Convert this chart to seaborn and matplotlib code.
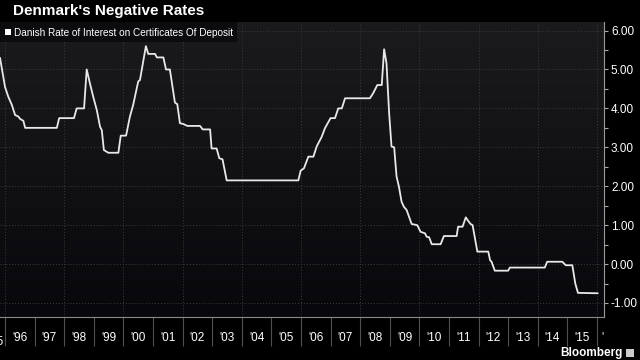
import numpy as np
import pandas as pd
import matplotlib
matplotlib.use("Agg")
import matplotlib.pyplot as plt
import seaborn as sns
from matplotlib.colors import LinearSegmentedColormap
from matplotlib.patches import Rectangle

title = "Denmark's Negative Rates"
series_name = "Danish Rate of Interest on Certificates Of Deposit"

years = [1995.83, 1996.00, 1996.11, 1996.23, 1996.34, 1996.45, 1996.51, 1996.62, 1996.68,
         1997.75, 1997.83, 1998.33, 1998.42, 1998.67, 1998.76, 1998.87, 1998.98, 1999.10,
         1999.21, 1999.27, 1999.34, 1999.49, 1999.83, 1999.91, 2000.09, 2000.22, 2000.33,
         2000.50, 2000.56, 2000.76, 2000.84, 2001.07, 2001.13, 2001.35, 2001.44, 2001.57,
         2001.74, 2001.82, 2001.91, 2002.02, 2002.16, 2002.59, 2002.68, 2002.93, 2002.98,
         2003.15, 2003.24, 2003.35, 2003.49, 2005.91, 2005.99, 2006.10, 2006.25, 2006.42,
         2006.53, 2006.70, 2006.81, 2007.00, 2007.15, 2007.26, 2007.38, 2007.49, 2008.33,
         2008.44, 2008.58, 2008.73, 2008.81, 2008.89, 2008.98, 2009.06, 2009.15, 2009.23,
         2009.31, 2009.40, 2009.48, 2009.57, 2009.74, 2009.93, 2010.04, 2010.19, 2010.25,
         2010.33, 2010.42, 2010.72, 2010.83, 2011.26, 2011.31, 2011.46, 2011.57, 2011.65,
         2011.73, 2011.80, 2011.96, 2012.33, 2012.39, 2012.44, 2012.55, 2013.00, 2013.06,
         2014.24, 2014.32, 2014.83, 2014.95, 2015.17, 2015.27, 2015.36, 2016.03]
rates = [5.30, 4.55, 4.30, 4.09, 3.83, 3.79, 3.73, 3.68, 3.50,
         3.50, 3.75, 3.75, 4.00, 4.00, 5.00, 4.64, 4.30, 3.96,
         3.53, 3.44, 2.93, 2.86, 2.86, 3.30, 3.30, 3.79, 4.09,
         4.69, 4.73, 5.60, 5.40, 5.40, 5.31, 5.31, 5.00, 5.00,
         4.15, 4.11, 3.62, 3.60, 3.55, 3.55, 3.46, 3.46, 2.97,
         2.97, 2.72, 2.69, 2.15, 2.15, 2.40, 2.46, 2.76, 2.76,
         3.02, 3.27, 3.49, 3.75, 3.75, 4.00, 4.00, 4.26, 4.26,
         4.39, 4.60, 4.60, 5.52, 5.16, 3.87, 3.02, 3.00, 2.25,
         1.99, 1.60, 1.47, 1.39, 1.03, 1.00, 0.83, 0.79, 0.70,
         0.69, 0.51, 0.51, 0.72, 0.72, 0.96, 0.96, 1.20, 1.11,
         1.03, 1.00, 0.32, 0.32, 0.10, 0.06, -0.17, -0.17, -0.09,
         -0.09, 0.06, 0.06, -0.03, -0.03, -0.50, -0.74, -0.75]

year_starts = list(range(1996, 2017))
year_labels = ["'96", "'97", "'98", "'99", "'00", "'01", "'02", "'03", "'04", "'05",
               "'06", "'07", "'08", "'09", "'10", "'11", "'12", "'13", "'14", "'15"]
y_ticks = [-1, 0, 1, 2, 3, 4, 5, 6]
y_labels = ["-1.00", "0.00", "1.00", "2.00", "3.00", "4.00", "5.00", "6.00"]

sns.set_theme(style="dark")
plt.rcParams['font.family'] = ['Liberation Sans', 'DejaVu Sans']

W, H = 640, 360
fig = plt.figure(figsize=(6.4, 3.6), dpi=100, facecolor='black')
ax = fig.add_axes([0, 1 - 317 / H, 604 / W, (317 - 22) / H])

xmin, xmax = 1995.83, 2016.24
ymin, ymax = -1.36, 6.22

bg = LinearSegmentedColormap.from_list('bg', ['#1b1b1d', '#08080c'])
ax.imshow(np.linspace(0, 1, 256).reshape(-1, 1), extent=[xmin, xmax, ymin, ymax],
          aspect='auto', cmap=bg, origin='upper', zorder=0)

for yv in y_ticks:
    ax.axhline(yv, ls=(0, (1, 2)), color='#3c3c3e', lw=0.7, zorder=1)
for xv in year_starts[::2]:
    ax.axvline(xv, ls=(0, (1, 2)), color='#3c3c3e', lw=0.7, zorder=1)

df = pd.DataFrame({'year': years, 'rate': rates})
sns.lineplot(data=df, x='year', y='rate', ax=ax, color='#e8e8e8', lw=1.3,
             sort=False, estimator=None, zorder=3)

ax.set_xlim(xmin, xmax)
ax.set_ylim(ymin, ymax)
ax.set_xlabel('')
ax.set_ylabel('')

for s in ['left', 'top']:
    ax.spines[s].set_visible(False)
ax.spines['right'].set_color('#9a9a9a')
ax.spines['right'].set_linewidth(0.8)
ax.spines['bottom'].set_color('#8a8a8a')
ax.spines['bottom'].set_linewidth(0.8)

ax.yaxis.tick_right()
ax.set_yticks(y_ticks)
ax.set_yticklabels(y_labels)
ax.set_yticks(np.arange(-1, 6.01, 0.5), minor=True)
ax.tick_params(axis='y', which='both', direction='out', length=3, width=0.8,
               color='#aaaaaa', labelcolor='white', labelsize=8.5, pad=2,
               left=False, right=True)

ax.set_xticks(year_starts)
ax.set_xticklabels([])
ax.set_xticks([y + 0.5 for y in year_starts[:-1]], minor=True)
ax.set_xticklabels(year_labels, minor=True)
ax.tick_params(axis='x', which='major', direction='out', length=21, width=0.8,
               color='#505050', bottom=True)
ax.tick_params(axis='x', which='minor', length=0, pad=11, labelcolor='white',
               labelsize=8.5, bottom=True)
ax.text(1996 - 9 / 29.6, -0.085, "'95", transform=ax.get_xaxis_transform(),
        ha='center', va='center', color='white', fontsize=8.5, clip_on=False)
fig.text(602 / W, 1 - 331 / H, "'", ha='center', va='top', color='white',
         fontsize=8.5)

# title
fig.text(13 / W, 1 - 11 / H, title, ha='left', va='center', color='white',
         fontsize=11, fontweight='bold')
# legend box
fig.patches.append(Rectangle((0, 1 - 42 / H), 237 / W, 20 / H, transform=fig.transFigure,
                             facecolor='#0c0c0e', edgecolor='none', zorder=5))
fig.patches.append(Rectangle((5 / W, 1 - 35 / H), 6 / W, 6 / H, transform=fig.transFigure,
                             facecolor='white', edgecolor='none', zorder=6))
fig.text(14 / W, 1 - 32.5 / H, series_name, ha='left', va='center', color='white',
         fontsize=7.2, zorder=7)
# source
fig.text(623 / W, 1 - 353 / H, "Bloomberg", ha='right', va='center', color='white',
         fontsize=8.5, fontweight='bold')
fig.patches.append(Rectangle((626 / W, 1 - 357 / H), 8 / W, 8 / H, transform=fig.transFigure,
                             facecolor='#cccccc', edgecolor='none'))

fig.savefig('out.png', dpi=100, facecolor='black')
